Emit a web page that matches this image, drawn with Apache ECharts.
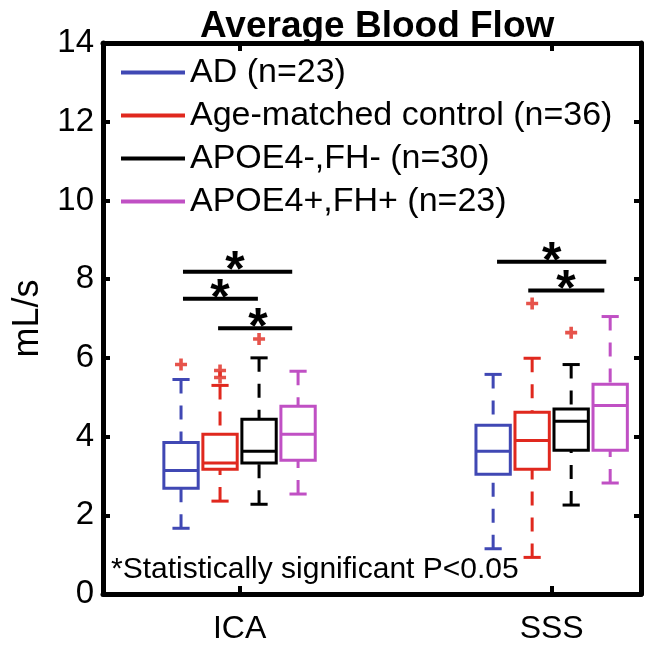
<!DOCTYPE html>
<html>
<head>
<meta charset="utf-8">
<script src="https://cdn.jsdelivr.net/npm/echarts@6/dist/echarts.min.js"></script>
<style>
  html, body { margin: 0; padding: 0; background: #fff; }
  #chart { width: 649px; height: 645px; }
</style>
</head>
<body>
<div id="chart"></div>
<script>
// categories
const sites = ['ICA', 'SSS'];
const sitePos = [3.5, 11.5];
const groups = ['AD (n=23)', 'Age-matched control (n=36)', 'APOE4-,FH- (n=30)', 'APOE4+,FH+ (n=23)'];
const groupColors = ['#4048b4', '#e0281e', '#000000', '#c050c4'];
// box x positions per group: [ICA, SSS]
const boxPos = [[2, 10], [3, 11], [4, 12], [5, 13]];

// box stats per group, [low whisker, q1, median, q3, high whisker] for ICA and SSS
const adStats = [[1.67, 2.69, 3.14, 3.85, 5.45], [1.15, 3.04, 3.63, 4.29, 5.58]];
const ctrlStats = [[2.36, 3.17, 3.33, 4.06, 5.30], [0.93, 3.17, 3.90, 4.62, 5.99]];
const negStats = [[2.28, 3.33, 3.63, 4.44, 6.00], [2.26, 3.65, 4.39, 4.70, 5.83]];
const posStats = [[2.54, 3.40, 4.06, 4.77, 5.66], [2.82, 3.65, 4.79, 5.33, 7.05]];
const allStats = [adStats, ctrlStats, negStats, posStats];

// outliers per group: [ICA values, SSS values]
const adOut = [[5.83], []];
const ctrlOut = [[5.50, 5.68], [7.38]];
const negOut = [[6.48], [6.64]];
const posOut = [[], []];
const allOut = [adOut, ctrlOut, negOut, posOut];

// significance bars: [x start, x end, y, star x]
const sigBars = [
  [2.05, 4.85, 8.19, 3.38],
  [2.05, 3.97, 7.50, 3.00],
  [2.95, 4.85, 6.75, 3.97],
  [10.1, 12.9, 8.44, 11.5],
  [10.9, 12.85, 7.71, 11.87]
];

const yTicks = [0, 2, 4, 6, 8, 10, 12, 14];
const font = 'Liberation Sans';

const boxSeries = groups.map((name, gi) => ({
  name: name,
  type: 'custom',
  itemStyle: { color: groupColors[gi] },
  data: allStats[gi].map((s, si) => [boxPos[gi][si]].concat(s)),
  renderItem: (params, api) => {
    const x = api.value(0);
    const low = api.coord([x, api.value(1)]);
    const q1 = api.coord([x, api.value(2)]);
    const med = api.coord([x, api.value(3)]);
    const q3 = api.coord([x, api.value(4)]);
    const high = api.coord([x, api.value(5)]);
    const hw = api.size([0.44, 0])[0];
    const cw = api.size([0.22, 0])[0];
    const cx = q1[0];
    const color = groupColors[gi];
    const solid = { stroke: color, lineWidth: 3, fill: null };
    const dashed = { stroke: color, lineWidth: 3, lineDash: [14, 12], fill: null };
    return {
      type: 'group',
      children: [
        { type: 'line', shape: { x1: cx, y1: high[1], x2: cx, y2: q3[1] }, style: dashed },
        { type: 'line', shape: { x1: cx, y1: low[1], x2: cx, y2: q1[1] }, style: dashed },
        { type: 'line', shape: { x1: cx - cw, y1: high[1], x2: cx + cw, y2: high[1] }, style: solid },
        { type: 'line', shape: { x1: cx - cw, y1: low[1], x2: cx + cw, y2: low[1] }, style: solid },
        { type: 'rect', shape: { x: cx - hw, y: q3[1], width: hw * 2, height: q1[1] - q3[1] }, style: solid },
        { type: 'line', shape: { x1: cx - hw, y1: med[1], x2: cx + hw, y2: med[1] }, style: solid }
      ]
    };
  },
  z: 3
}));

const outlierData = [];
allOut.forEach((g, gi) => g.forEach((vals, si) => vals.forEach(v => outlierData.push([boxPos[gi][si], v]))));

const frameLine = { show: true, onZero: false, lineStyle: { color: '#000', width: 5 } };

const option = {
  animation: false,
  backgroundColor: '#fff',
  textStyle: { fontFamily: font },
  title: {
    text: 'Average Blood Flow',
    left: 195,
    top: 3,
    textStyle: { fontFamily: font, fontSize: 37, fontWeight: 'bold', color: '#000' }
  },
  legend: {
    orient: 'vertical',
    left: 116,
    top: 49,
    icon: 'rect',
    itemWidth: 64,
    itemHeight: 4,
    itemGap: 6,
    data: groups,
    textStyle: { fontFamily: font, fontSize: 34, color: '#000', lineHeight: 37 }
  },
  grid: { left: 103, right: 8, top: 43, bottom: 48 },
  xAxis: [
    {
      type: 'value',
      min: 0,
      max: 13.79,
      position: 'bottom',
      splitLine: { show: false },
      axisLine: frameLine,
      axisTick: { show: true, inside: true, length: 8, customValues: sitePos, lineStyle: { color: '#000', width: 4 } },
      axisLabel: {
        customValues: sitePos,
        formatter: v => sites[sitePos.indexOf(v)] || '',
        fontFamily: font, fontSize: 32, color: '#000', margin: 19
      }
    },
    {
      type: 'value',
      min: 0,
      max: 13.79,
      position: 'top',
      splitLine: { show: false },
      axisLine: frameLine,
      axisTick: { show: true, inside: true, length: 8, customValues: sitePos, lineStyle: { color: '#000', width: 4 } },
      axisLabel: { show: false }
    }
  ],
  yAxis: [
    {
      type: 'value',
      min: 0,
      max: 14,
      interval: 2,
      position: 'left',
      name: 'mL/s',
      nameLocation: 'middle',
      nameGap: 55,
      nameRotate: 90,
      nameTextStyle: { fontFamily: font, fontSize: 36, color: '#000' },
      splitLine: { show: false },
      axisLine: frameLine,
      axisTick: { show: true, inside: true, length: 7, lineStyle: { color: '#000', width: 4 } },
      axisLabel: { fontFamily: font, fontSize: 33, color: '#000', margin: 9, formatter: v => yTicks.indexOf(v) >= 0 ? String(v) : '' }
    },
    {
      type: 'value',
      min: 0,
      max: 14,
      interval: 2,
      position: 'right',
      splitLine: { show: false },
      axisLine: frameLine,
      axisTick: { show: true, inside: true, length: 7, lineStyle: { color: '#000', width: 4 } },
      axisLabel: { show: false }
    }
  ],
  graphic: [
    {
      type: 'text',
      left: 111,
      top: 555,
      style: { text: '*Statistically significant P<0.05', fontFamily: font, fontSize: 30, fill: '#000' },
      z: 10
    }
  ],
  series: boxSeries.concat([
    {
      name: 'outliers',
      type: 'scatter',
      symbol: 'path://M3.5,0H6.5V3.5H10V6.5H6.5V10H3.5V6.5H0V3.5H3.5Z',
      symbolSize: 12,
      itemStyle: { color: '#e0281e' },
      data: outlierData,
      z: 4
    },
    {
      name: 'significance',
      type: 'custom',
      data: sigBars,
      renderItem: (params, api) => {
        const a = api.coord([api.value(0), api.value(2)]);
        const b = api.coord([api.value(1), api.value(2)]);
        const s = api.coord([api.value(3), api.value(2)]);
        return {
          type: 'group',
          children: [
            { type: 'line', shape: { x1: a[0], y1: a[1], x2: b[0], y2: b[1] }, style: { stroke: '#000', lineWidth: 4 } },
            { type: 'text', style: { text: '*', x: s[0], y: s[1] + 1, fill: '#000', font: 'bold 50px ' + font, textAlign: 'center', textVerticalAlign: 'middle' } }
          ]
        };
      },
      z: 5
    }
  ])
};

const chart = echarts.init(document.getElementById('chart'));
chart.setOption(option);
</script>
</body>
</html>
